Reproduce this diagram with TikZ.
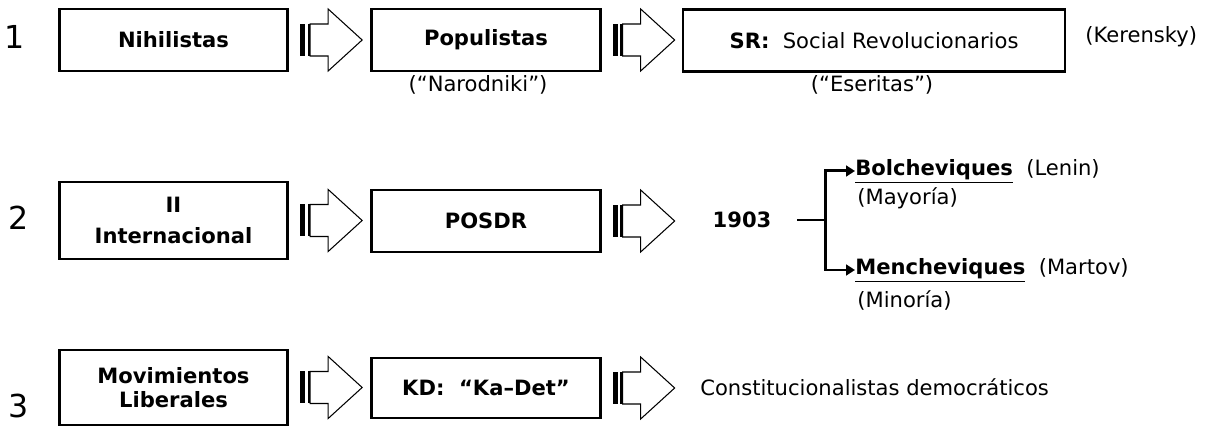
\documentclass[tikz,border=0pt]{standalone}
\usepackage{fontspec}
\setmainfont{DejaVu Sans}
\usetikzlibrary{arrows.meta,positioning,calc}

\tikzset{
  box/.style={draw, line width=1.6pt, minimum width=4.57cm, minimum height=1.24cm,
    inner sep=0pt, align=center, font=\fontsize{12}{14}\selectfont\bfseries},
  sublabel/.style={inner sep=0pt, font=\fontsize{12}{14}\selectfont},
  rownum/.style={inner sep=0pt, font=\fontsize{18}{20}\selectfont},
  split/.style={line width=1.7pt},
  stripedarrow/.pic={
    \fill (0, -.32) rectangle (.1, .32);
    \fill (.15, -.32) rectangle (.19, .32);
    \draw[line width=.6pt] (.2, -.32) -- (.2, .32) -- (.56, .32) -- (.56, .62) -- (1.24, 0)
      -- (.56, -.62) -- (.56, -.32) -- cycle;
  }
}

\begin{document}
\begin{tikzpicture}
        \useasboundingbox (0, 0) rectangle (24.1, 8.52);

        % row 1
        \node[rownum] (n1) at (.3, 7.78) {1};
        \node[box] (nihil) at (3.47, 7.72) {Nihilistas};
        \node[box] (popul) at (9.72, 7.72) {Populistas};
        \node[box, minimum width=7.64cm, font=\fontsize{12}{14}\selectfont] (sr) at (17.48, 7.71) {\textbf{SR:}\ \ Social Revolucionarios};
        \node[sublabel] (narod) at (9.56, 6.82) {(“Narodniki”)};
        \node[sublabel] (eser) at (17.44, 6.82) {(“Eseritas”)};
        \node[sublabel, anchor=west] (keren) at (21.7, 7.78) {(Kerensky)};
        \pic at ($(nihil.east)+(.22, 0)$) {stripedarrow};
        \pic at ($(popul.east)+(.22, 0)$) {stripedarrow};

        % row 2
        \node[rownum] (n2) at (.38, 4.16) {2};
        \node[box, minimum height=1.54cm] (inter) at (3.47, 4.11) {II\\[4pt]Internacional};
        \node[box] (posdr) at (9.72, 4.1) {POSDR};
        \pic at ($(inter.east)+(.22, 0)$) {stripedarrow};
        \pic at ($(posdr.east)+(.22, 0)$) {stripedarrow};
        \node[sublabel, font=\fontsize{12}{14}\selectfont\bfseries] (y1903) at (14.84, 4.12) {1903};
        \coordinate (stub) at (15.94, 4.12);
        \coordinate (fork) at (16.5, 4.12);
        \node[sublabel, anchor=west] (bol) at (17.1, 5.1) {\underline{\textbf{Bolcheviques}}\ \ (Lenin)};
        \node[sublabel, anchor=west] (mayor) at (17.14, 4.56) {(Mayoría)};
        \node[sublabel, anchor=west] (mench) at (17.1, 3.12) {\underline{\textbf{Mencheviques}}\ \ (Martov)};
        \node[sublabel, anchor=west] (minor) at (17.14, 2.52) {(Minoría)};
        \draw[split] (stub) -- (fork);
        \draw[split, -{Triangle[length=5pt, width=6pt]}] (fork) |- (bol.west);
        \draw[split, -{Triangle[length=5pt, width=6pt]}] (fork) |- (mench.west);

        % row 3
        \node[rownum] (n3) at (.38, .4) {3};
        \node[box, minimum height=1.5cm] (mov) at (3.47, .77) {Movimientos\\Liberales};
        \node[box, minimum height=1.2cm] (kd) at (9.72, .76) {KD:\ \ “Ka--Det”};
        \pic at ($(mov.east)+(.22, 0)$) {stripedarrow};
        \pic at ($(kd.east)+(.22, 0)$) {stripedarrow};
        \node[sublabel, anchor=west] (const) at (14, .78) {Constitucionalistas democráticos};

\end{tikzpicture}
\end{document}
